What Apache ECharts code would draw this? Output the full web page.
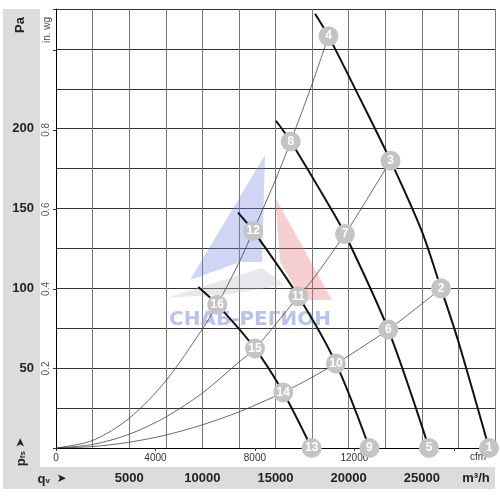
<!DOCTYPE html>
<html>
<head>
<meta charset="utf-8">
<script src="https://cdn.jsdelivr.net/npm/echarts@6/dist/echarts.min.js"></script>
<style>
  html, body { margin: 0; padding: 0; background: #fff; }
  #chart { width: 500px; height: 500px; }
</style>
</head>
<body>
<div id="chart"></div>
<script>
// fan curves (qv in m3/h, pfs in Pa)
const curveA_q = [17700, 18620, 20770, 22860, 24990, 26310, 27470, 29590]
const curveA_p = [272, 258, 219, 180, 136, 100, 67.5, 0]
const curveB_q = [15030, 16040, 18720, 19750, 22710, 25490]
const curveB_p = [205, 192, 151, 134, 74, 0]
const curveC_q = [12440, 13480, 16560, 19130, 21420]
const curveC_p = [147.5, 136, 95, 53, 0]
const curveD_q = [9720, 11020, 13600, 15530, 17470]
const curveD_p = [100.8, 89.8, 62.3, 34.8, 0]

// system curves from the origin
const sys1_q = [0, 2500, 5000, 7500, 10000, 11020, 12500, 13480, 15000, 16040, 17500, 18620]
const sys1_p = [0, 4.7, 18.6, 42, 74.5, 89.8, 116, 136, 168, 192, 228, 258]
const sys2_q = [0, 2500, 5000, 7500, 10000, 12500, 13600, 15000, 16560, 17500, 19750, 21000, 22860]
const sys2_p = [0, 2.2, 8.6, 19.4, 34.4, 53.8, 62.3, 77.4, 95, 105, 134, 152, 180]
const sys3_q = [0, 2500, 5000, 7500, 10000, 12500, 15000, 15530, 17500, 19130, 20000, 22710, 25000, 26310]
const sys3_p = [0, 0.9, 3.6, 8.1, 14.5, 22.6, 32.5, 34.8, 44.3, 53, 57.8, 74.2, 90.3, 100]

// operating points
const pointNames = ['1', '2', '3', '4', '5', '6', '7', '8', '9', '10', '11', '12', '13', '14', '15', '16']
const point_q = [29590, 26310, 22860, 18620, 25490, 22710, 19750, 16040, 21420, 19130, 16560, 13480, 17470, 15530, 13600, 11020]
const point_p = [0, 100, 180, 258, 0, 74.2, 134, 192, 0, 53, 95, 136, 0, 34.8, 62.3, 89.8]

// axes
const qMax = 30000
const pMax = 275
const cfmMax = qMax / 1.699
const inwgMax = pMax / 249.09

const zip = (xs, ys) => xs.map((x, i) => [x, ys[i]])

const chart = echarts.init(document.getElementById('chart'))

const fanLine = (q, p) => ({
  type: 'line',
  data: zip(q, p),
  symbol: 'none',
  smooth: 0.3,
  lineStyle: { color: '#111', width: 2 },
  z: 3
})
const sysLine = (q, p) => ({
  type: 'line',
  data: zip(q, p),
  symbol: 'none',
  smooth: 0.3,
  lineStyle: { color: '#444', width: 0.8 },
  z: 2
})

chart.setOption({
  animation: false,
  grid: { left: 56, right: 5, top: 9, bottom: 52 },
  xAxis: [
    {
      type: 'value',
      min: 0,
      max: qMax,
      interval: 2500,
      axisLine: { show: true, lineStyle: { color: '#000', width: 1 } },
      axisTick: { show: false },
      splitLine: { show: true, lineStyle: { color: '#777', width: 1 } },
      axisLabel: {
        margin: 24,
        color: '#222',
        fontSize: 13,
        fontWeight: 'bold',
        fontFamily: 'Liberation Sans',
        formatter: v => (v % 5000 === 0 && v > 0 && v < qMax ? String(v) : '')
      }
    },
    {
      type: 'value',
      position: 'bottom',
      min: 0,
      max: cfmMax,
      interval: 4000,
      axisLine: { show: false },
      axisTick: { show: true, length: 3, lineStyle: { color: '#333' } },
      splitLine: { show: false },
      axisLabel: {
        margin: 5,
        color: '#333',
        fontSize: 10,
        fontFamily: 'Liberation Sans',
        formatter: v => (v < 14000 ? String(v) : '')
      }
    }
  ],
  yAxis: [
    {
      type: 'value',
      min: 0,
      max: pMax,
      interval: 25,
      axisLine: { show: true, lineStyle: { color: '#000', width: 1 } },
      axisTick: { show: false },
      splitLine: { show: true, lineStyle: { color: '#333', width: 1 } },
      axisLabel: {
        margin: 22,
        color: '#222',
        fontSize: 13,
        fontWeight: 'bold',
        fontFamily: 'Liberation Sans',
        formatter: v => (v % 50 === 0 && v > 0 && v < 250 ? String(v) : '')
      }
    },
    {
      type: 'value',
      position: 'left',
      min: 0,
      max: inwgMax,
      interval: 0.2,
      axisLine: { show: false },
      axisTick: { show: true, length: 3, lineStyle: { color: '#333' } },
      splitLine: { show: false },
      axisLabel: {
        margin: 5,
        rotate: 90,
        color: '#555',
        fontSize: 10,
        fontFamily: 'Liberation Sans',
        formatter: v => (v > 0.1 && v < 0.9 ? v.toFixed(1) : '')
      }
    }
  ],
  graphic: [
    { type: 'rect', shape: { x: 3, y: 9, width: 37, height: 480 }, style: { fill: '#dcdcdc' }, z: -10 },
    { type: 'rect', shape: { x: 3, y: 467, width: 492, height: 22 }, style: { fill: '#dcdcdc' }, z: -10 },
    // watermark
    { type: 'polygon', shape: { points: [[190, 280], [265, 155], [262, 262], [240, 262]] }, style: { fill: 'rgba(120,135,220,0.35)' }, z: 1 },
    { type: 'polygon', shape: { points: [[275, 197], [332, 300], [302, 300], [280, 262]] }, style: { fill: 'rgba(230,120,120,0.35)' }, z: 1 },
    { type: 'polygon', shape: { points: [[166, 298], [262, 268], [285, 285], [230, 294]] }, style: { fill: 'rgba(190,190,200,0.35)' }, z: 1 },
    {
      type: 'text', x: 250, y: 320, z: 1,
      style: { text: 'СНАБ-РЕГИОН', font: 'bold 20px "DejaVu Sans"', fill: 'rgba(140,155,225,0.6)', align: 'center', verticalAlign: 'middle' }
    },
    // axis titles
    {
      type: 'text', x: 20, y: 25, rotation: Math.PI / 2,
      style: { text: 'Pa', font: 'bold 13px "Liberation Sans"', fill: '#222', align: 'center', verticalAlign: 'middle' }
    },
    {
      type: 'text', x: 47, y: 30, rotation: Math.PI / 2,
      style: { text: 'in. wg', font: '10px "Liberation Sans"', fill: '#444', align: 'center', verticalAlign: 'middle' }
    },
    {
      type: 'text', x: 21, y: 452, rotation: Math.PI / 2,
      style: {
        text: '{a|p}{b|fs} {c|➤}',
        align: 'center',
        verticalAlign: 'middle',
        rich: {
          a: { font: 'bold 13px "Liberation Sans"', fill: '#222' },
          b: { font: 'bold 8px "Liberation Sans"', fill: '#222', padding: [4, 0, 0, 0] },
          c: { font: '12px "DejaVu Sans"', fill: '#222' }
        }
      }
    },
    {
      type: 'text', x: 52, y: 479,
      style: {
        text: '{a|q}{b|v}  {c|➤}',
        align: 'center',
        verticalAlign: 'middle',
        rich: {
          a: { font: 'bold 13px "Liberation Sans"', fill: '#222' },
          b: { font: 'bold 8px "Liberation Sans"', fill: '#222', padding: [4, 0, 0, 0] },
          c: { font: '12px "DejaVu Sans"', fill: '#222' }
        }
      }
    },
    {
      type: 'text', x: 476, y: 478,
      style: { text: 'm³/h', font: 'bold 13px "Liberation Sans"', fill: '#222', align: 'center', verticalAlign: 'middle' }
    },
    {
      type: 'text', x: 478, y: 457,
      style: { text: 'cfm', font: '10px "Liberation Sans"', fill: '#333', align: 'center', verticalAlign: 'middle' }
    }
  ],
  series: [
    sysLine(sys1_q, sys1_p),
    sysLine(sys2_q, sys2_p),
    sysLine(sys3_q, sys3_p),
    fanLine(curveA_q, curveA_p),
    fanLine(curveB_q, curveB_p),
    fanLine(curveC_q, curveC_p),
    fanLine(curveD_q, curveD_p),
    {
      type: 'scatter',
      data: point_q.map((q, i) => [q, point_p[i], pointNames[i]]),
      symbol: 'circle',
      symbolSize: 20,
      clip: false,
      itemStyle: { color: '#c4c4c4', opacity: 1 },
      label: {
        show: true,
        position: 'inside',
        formatter: p => p.value[2],
        color: '#fff',
        fontSize: 12,
        fontWeight: 'bold',
        fontFamily: 'Liberation Sans'
      },
      z: 5
    }
  ]
})
</script>
</body>
</html>
